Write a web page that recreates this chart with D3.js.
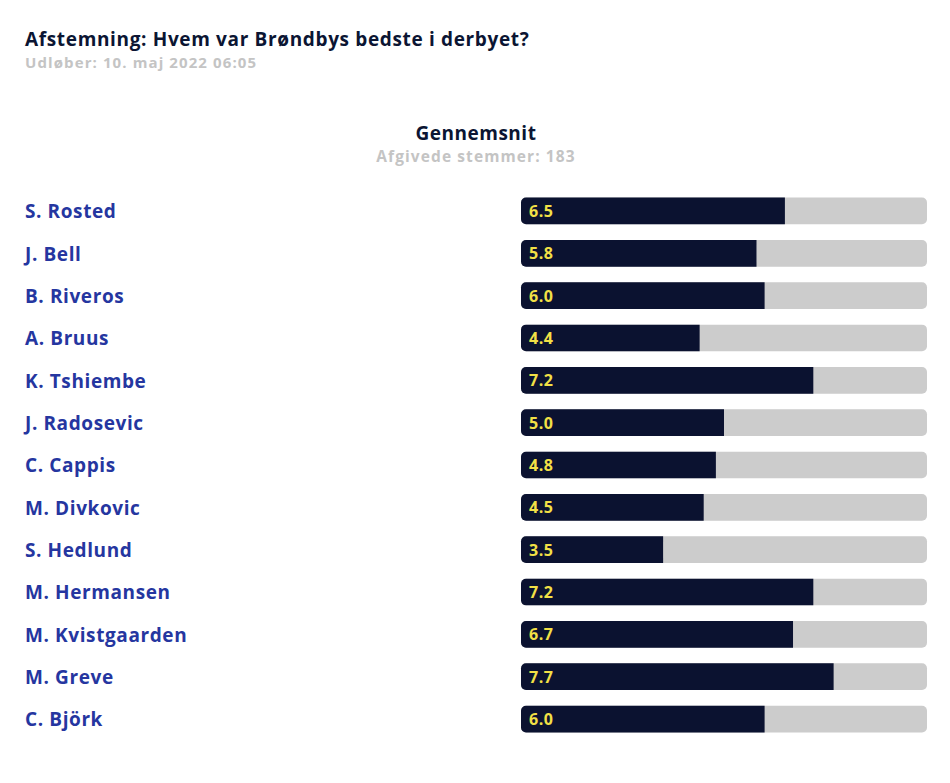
<!DOCTYPE html>
<html lang="da">
<head>
<meta charset="UTF-8">
<title>Afstemning</title>
<script src="https://cdnjs.cloudflare.com/ajax/libs/d3/7.8.5/d3.min.js"></script>
<style>
  body { margin: 0; background: #fff; font-family: "Open Sans", Lato, sans-serif; }
</style>
</head>
<body>
<div id="chart"></div>
<script>
// data
const players = ["S. Rosted", "J. Bell", "B. Riveros", "A. Bruus", "K. Tshiembe", "J. Radosevic",
  "C. Cappis", "M. Divkovic", "S. Hedlund", "M. Hermansen", "M. Kvistgaarden", "M. Greve", "C. Björk"];
const ratings = [6.5, 5.8, 6.0, 4.4, 7.2, 5.0, 4.8, 4.5, 3.5, 7.2, 6.7, 7.7, 6.0];
const maxRating = 10;

const W = 950, H = 783;
const svg = d3.select("#chart").append("svg")
  .attr("width", W).attr("height", H);

// header
svg.append("text").attr("x", 25).attr("y", 46)
  .attr("fill", "#0b1533").attr("font-size", 19).attr("font-weight", 700)
  .attr("letter-spacing", 0.65)
  .text("Afstemning: Hvem var Brøndbys bedste i derbyet?");
svg.append("text").attr("x", 25).attr("y", 68)
  .attr("fill", "#c4c4c4").attr("font-size", 15).attr("font-weight", 700)
  .attr("letter-spacing", 1.1)
  .text("Udløber: 10. maj 2022 06:05");

svg.append("text").attr("x", 476).attr("y", 140).attr("text-anchor", "middle")
  .attr("fill", "#0b1533").attr("font-size", 19).attr("font-weight", 700)
  .attr("letter-spacing", 0.5)
  .text("Gennemsnit");
svg.append("text").attr("x", 476).attr("y", 162).attr("text-anchor", "middle")
  .attr("fill", "#c4c4c4").attr("font-size", 15.5).attr("font-weight", 700)
  .attr("letter-spacing", 1.1)
  .text("Afgivede stemmer: 183");

// scales
const x = d3.scaleLinear().domain([0, maxRating]).range([521, 927]);
const y = d3.scaleBand().domain(players).range([190, 740]).paddingInner(0.37).paddingOuter(0.18);

const rows = svg.append("g").selectAll("g")
  .data(players.map((p, i) => ({ name: p, value: ratings[i] })))
  .join("g");

rows.append("text")
  .attr("x", 25)
  .attr("y", d => y(d.name) + y.bandwidth() / 2)
  .attr("dy", "0.38em")
  .attr("fill", "#2536a0").attr("font-size", 19).attr("font-weight", 700)
  .attr("letter-spacing", 0.6)
  .text(d => d.name);

// background track
rows.append("rect")
  .attr("x", x(0)).attr("y", d => y(d.name))
  .attr("width", x(maxRating) - x(0)).attr("height", y.bandwidth())
  .attr("rx", 5).attr("fill", "#cccccc");

// value bar: rounded left, square right
rows.append("path")
  .attr("fill", "#0b1230")
  .attr("d", d => {
    const x0 = x(0), x1 = x(d.value), y0 = y(d.name), h = y.bandwidth(), r = 5;
    return `M${x0 + r},${y0}H${x1}V${y0 + h}H${x0 + r}A${r},${r} 0 0 1 ${x0},${y0 + h - r}V${y0 + r}A${r},${r} 0 0 1 ${x0 + r},${y0}Z`;
  });

rows.append("text")
  .attr("x", x(0) + 8)
  .attr("y", d => y(d.name) + y.bandwidth() / 2)
  .attr("dy", "0.38em")
  .attr("fill", "#f2e046").attr("font-size", 16).attr("font-weight", 700)
  .attr("letter-spacing", 0.5)
  .text(d => d.value.toFixed(1));
</script>
</body>
</html>
